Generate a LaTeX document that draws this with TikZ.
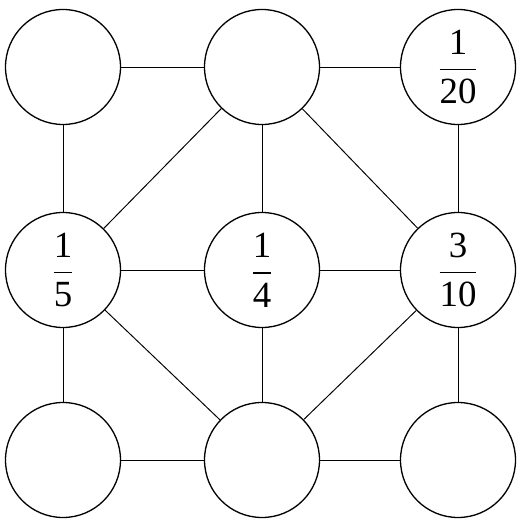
\documentclass[tikz,border=0pt]{standalone}
\usepackage{amsmath}
\usepackage{fontspec}
\setmainfont{Liberation Serif}
\usepackage{tikz}
\usetikzlibrary{positioning}

\newcommand{\cellfrac}[2]{$\dfrac{\text{#1}}{\text{#2}}$}

\begin{document}
\begin{tikzpicture}[
    cell/.style={circle, draw, line width=0.75pt, minimum size=2.3cm, inner sep=0pt, font=\fontsize{21}{24}\selectfont},
    link/.style={line width=0.55pt}
]
\useasboundingbox (0,0) rectangle (10.4,10.4);
% ノード定義
\node[cell] (tl) at (1.26,9.06) {};
\node[cell] (tm) at (5.24,9.06) {};
\node[cell] (tr) at (9.16,9.06) {\cellfrac{1}{20}};
\node[cell] (ml) at (1.26,5.0) {\cellfrac{1}{5}};
\node[cell] (mm) at (5.24,5.0) {\cellfrac{1}{4}};
\node[cell] (mr) at (9.16,5.0) {\cellfrac{3}{10}};
\node[cell] (bl) at (1.26,1.2) {};
\node[cell] (bm) at (5.24,1.2) {};
\node[cell] (br) at (9.16,1.2) {};

% 線
\draw[link] (tl) -- (tm);
\draw[link] (tm) -- (tr);
\draw[link] (ml) -- (mm);
\draw[link] (mm) -- (mr);
\draw[link] (bl) -- (bm);
\draw[link] (bm) -- (br);
\draw[link] (tl) -- (ml);
\draw[link] (ml) -- (bl);
\draw[link] (tm) -- (mm);
\draw[link] (mm) -- (bm);
\draw[link] (tr) -- (mr);
\draw[link] (mr) -- (br);
\draw[link] (tm) -- (ml);
\draw[link] (tm) -- (mr);
\draw[link] (ml) -- (bm);
\draw[link] (mr) -- (bm);
\end{tikzpicture}
\end{document}
